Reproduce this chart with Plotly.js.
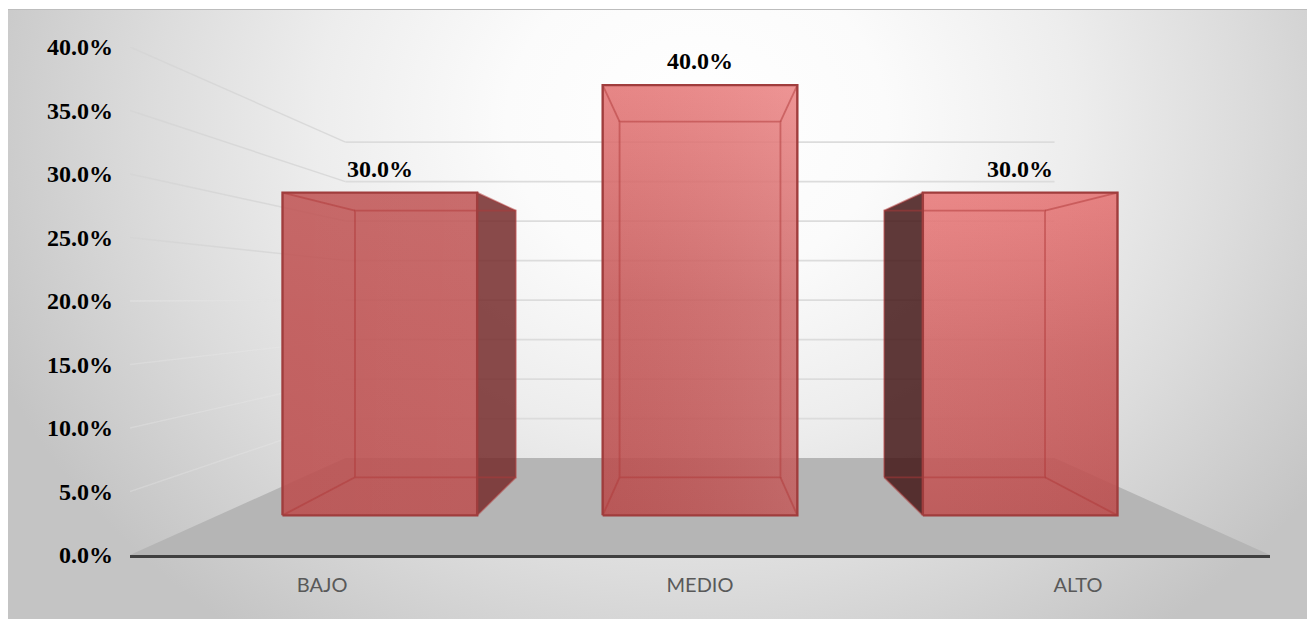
<!DOCTYPE html>
<html>
<head>
<meta charset="utf-8">
<script src="https://cdn.plot.ly/plotly-3.0.1.min.js"></script>
<style>
  html, body { margin: 0; padding: 0; background: #fff; overflow: hidden; }
  #backdrop {
    position: absolute; left: 8px; top: 9px; width: 1299px; height: 610px;
    box-sizing: border-box; border-top: 1px solid #bdbdbd;
    background: radial-gradient(ellipse 760px 640px at 53% 18%, #ffffff 0%, #fbfbfb 25%, #ededed 50%, #dcdcdc 72%, #c4c4c4 100%);
  }
  #chart { position: absolute; left: 0; top: 0; width: 1307px; height: 619px; }
</style>
</head>
<body>
<div id="backdrop"></div>
<div id="chart"></div>
<script>
// Chart values
const categories = ['BAJO', 'MEDIO', 'ALTO'];
const percentages = [30, 40, 30];
const axisTicks = [0, 5, 10, 15, 20, 25, 30, 35, 40];

// Simple perspective: depth factors shrink a point toward the vanishing point
const VANISH_X = 1, VANISH_Y = 20.4;
const DEPTH_FRONT = 0.847, DEPTH_BACK = 0.70, DEPTH_WALL = 0.622;
const HALF_WIDTH = 0.304;

function project(x, v, depth, vy) {
  const vanishY = vy === undefined ? VANISH_Y : vy;
  return [VANISH_X + (x - VANISH_X) * depth, vanishY + (v - vanishY) * depth];
}

function path(points) {
  return { x: points.map(p => p[0]), y: points.map(p => p[1]) };
}

function lineTrace(points, color, width) {
  const p = path(points);
  return { type: 'scatter', mode: 'lines', x: p.x, y: p.y, hoverinfo: 'skip', showlegend: false,
           line: { color: color, width: width } };
}

function faceTrace(points, fillcolor) {
  const p = path(points.concat([points[0]]));
  return { type: 'scatter', mode: 'lines', x: p.x, y: p.y, fill: 'toself', fillcolor: fillcolor,
           hoverinfo: 'skip', showlegend: false, line: { width: 0 } };
}

function gradientFace(points, kind, colorscale) {
  const p = path(points.concat([points[0]]));
  return { type: 'scatter', mode: 'lines', x: p.x, y: p.y, fill: 'toself',
           fillgradient: { type: kind, colorscale: colorscale },
           hoverinfo: 'skip', showlegend: false, line: { width: 0 } };
}

const traces = [];

// Floor plane, drawn from the front axis corners to the back wall
const XMIN = -0.508, XMAX = 2.508;
traces.push(faceTrace([
  project(XMIN, 0, 1, 20.2), project(XMAX, 0, 1, 20.2),
  project(XMAX, 0, DEPTH_WALL, 20.2), project(XMIN, 0, DEPTH_WALL, 20.2)
], '#b5b5b5'));

// Gridlines on the side wall and the back wall
axisTicks.forEach(t => {
  if (t === 0) return;
  const sideColor = t >= 25 ? 'rgba(212,212,212,0.8)' : (t === 20 ? 'rgba(226,226,226,0.7)' : 'rgba(236,236,236,0.3)');
  traces.push(lineTrace([project(XMIN, t, 1, 20.2), project(XMIN, t, DEPTH_WALL, 20.2)], sideColor, 1.4));
  traces.push(lineTrace([project(XMIN, t, DEPTH_WALL, 20.2), project(XMAX, t, DEPTH_WALL, 20.2)], '#dcdcdc', 1.8));
});

// Face shading for each box: vertical ramp of the front face, then a left-to-right tint
const frontRamps = [
  [[0, 'rgba(188,78,78,0.88)'], [0.6, 'rgba(191,81,81,0.88)'], [1, 'rgba(193,86,86,0.88)']],
  [[0, 'rgba(188,78,78,0.88)'], [0.5, 'rgba(202,92,92,0.88)'], [1, 'rgba(234,124,124,0.88)']],
  [[0, 'rgba(190,78,78,0.88)'], [0.5, 'rgba(206,94,94,0.88)'], [1, 'rgba(232,118,118,0.88)']]
];
const tintLeft = ['rgba(255,255,255,0)', 'rgba(120,30,30,0.05)', 'rgba(255,255,255,0.02)'];
const tintRight = ['rgba(255,255,255,0.02)', 'rgba(255,255,255,0.08)', 'rgba(120,30,30,0.03)'];
const sideFaces = ['rgba(118,44,44,0.85)', null, 'rgba(68,24,24,0.85)'];

const EDGE_INNER = 'rgba(176,56,56,0.5)';
const EDGE_OUTER = '#a03d3d';

percentages.forEach((value, i) => {
  const L = i - HALF_WIDTH, R = i + HALF_WIDTH;
  const fbl = project(L, 0, DEPTH_FRONT), fbr = project(R, 0, DEPTH_FRONT);
  const ftl = project(L, value, DEPTH_FRONT), ftr = project(R, value, DEPTH_FRONT);
  const bbl = project(L, 0, DEPTH_BACK), bbr = project(R, 0, DEPTH_BACK);
  const btl = project(L, value, DEPTH_BACK), btr = project(R, value, DEPTH_BACK);

  // Side face that sticks out beyond the front face
  if (sideFaces[i]) {
    const side = i < 1 ? [ftr, btr, bbr, fbr] : [ftl, btl, bbl, fbl];
    traces.push(faceTrace(side, sideFaces[i]));
  }

  // Front face
  const front = [fbl, fbr, ftr, ftl];
  traces.push(gradientFace(front, 'vertical', frontRamps[i]));
  traces.push(gradientFace(front, 'horizontal', [[0, tintLeft[i]], [1, tintRight[i]]]));

  // Rear rectangle seen through the front, and the receding edges
  traces.push(lineTrace([bbl, bbr, btr, btl, bbl], EDGE_INNER, 1.8));
  traces.push(lineTrace([ftl, btl], EDGE_INNER, 1.8));
  traces.push(lineTrace([ftr, btr], EDGE_INNER, 1.8));
  traces.push(lineTrace([fbl, bbl], EDGE_INNER, 1.8));
  traces.push(lineTrace([fbr, bbr], EDGE_INNER, 1.8));

  // Front outline
  traces.push(lineTrace(front.concat([fbl]), EDGE_OUTER, 2.4));
});

// Value labels sit above the centre of each front face
const serif = 'Liberation Serif, Times New Roman, serif';
const annotations = percentages.map((value, i) => {
  const p = project(i, value, DEPTH_FRONT);
  return { x: p[0], y: p[1], xref: 'x', yref: 'y', text: '<b>' + value.toFixed(1) + '%</b>', showarrow: false,
           yshift: 24, font: { family: serif, size: 24, color: '#000' } };
});

const layout = {
  width: 1307, height: 619,
  margin: { l: 130, r: 37, t: 47, b: 64, pad: 0 },
  paper_bgcolor: 'rgba(0,0,0,0)', plot_bgcolor: 'rgba(0,0,0,0)',
  showlegend: false,
  annotations: annotations,
  xaxis: {
    range: [XMIN, XMAX], tickmode: 'array', tickvals: categories.map((_, i) => i), ticktext: categories,
    showgrid: false, zeroline: false, showline: true, linecolor: '#404040', linewidth: 3,
    ticks: '', ticklabelstandoff: 10, tickfont: { family: 'Lato, sans-serif', size: 20, color: '#595959' }
  },
  yaxis: {
    range: [0, 40], tickmode: 'array', tickvals: axisTicks,
    ticktext: axisTicks.map(t => t.toFixed(1) + '%'),
    showgrid: false, zeroline: false, showline: false, ticks: '', ticklabelstandoff: 16,
    tickfont: { family: serif, size: 24, color: '#000', weight: 'bold' }
  }
};

Plotly.newPlot('chart', traces, layout, { displayModeBar: false, staticPlot: true });
</script>
</body>
</html>
